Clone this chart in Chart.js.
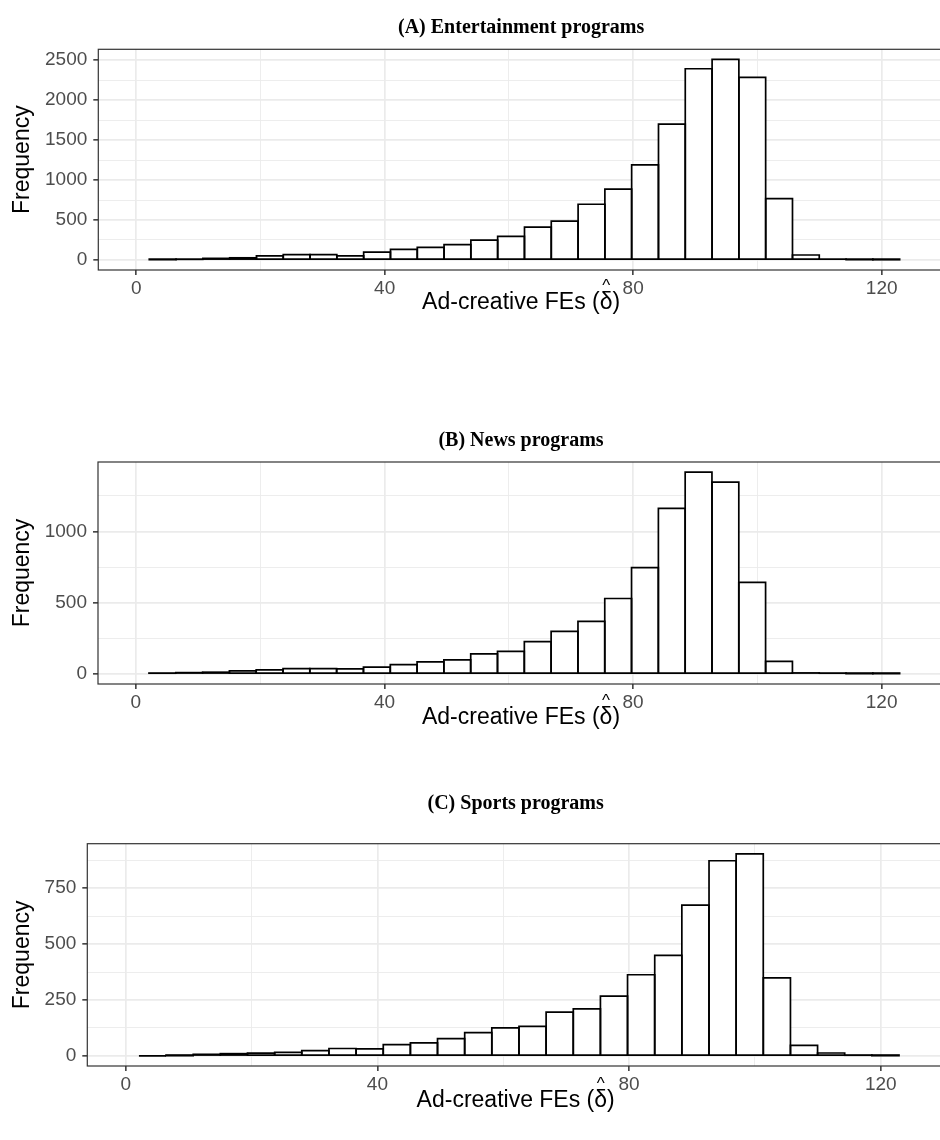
<!DOCTYPE html>
<html>
<head>
<meta charset="utf-8">
<script src="https://cdn.jsdelivr.net/npm/chart.js@4.4.1/dist/chart.umd.min.js"></script>
<style>
  html, body { margin: 0; padding: 0; background: #ffffff; }
  #page { position: relative; width: 940px; height: 1140px; overflow: hidden; background: #ffffff; }
  #page canvas { position: absolute; left: 0; }
</style>
</head>
<body>
<div id="page">
  <canvas id="panelA" width="960" height="330"></canvas>
  <canvas id="panelB" width="960" height="330"></canvas>
  <canvas id="panelC" width="960" height="360"></canvas>
</div>
<script>
// Histogram bins of the ad-creative fixed effects (bin centres, shared by all panels)
const binCenters = [4.26, 8.57, 12.89, 17.20, 21.51, 25.83, 30.14, 34.46, 38.77, 43.09,
                    47.40, 51.71, 56.03, 60.34, 64.66, 68.97, 73.29, 77.60, 81.91, 86.23,
                    90.54, 94.86, 99.17, 103.49, 107.80, 112.11, 116.43, 120.74];

// Counts per bin
const countsEntertainment = [4, 8, 20, 27, 50, 68, 68, 50, 97, 133, 158, 192, 247, 294, 410, 485,
                             697, 887, 1190, 1700, 2392, 2510, 2284, 767, 62, 10, 4, 3];
const countsNews = [5, 9, 12, 21, 28, 37, 37, 35, 47, 65, 84, 98, 140, 158, 226, 298,
                    368, 529, 746, 1162, 1416, 1346, 642, 88, 7, 5, 2, 2];
const countsSports = [0, 1, 7, 10, 12, 16, 24, 33, 31, 50, 58, 77, 104, 125, 132, 196,
                      210, 267, 363, 450, 674, 873, 904, 349, 47, 13, 3, 1];

// Axis ticks
const xTickValues = [0, 20, 40, 60, 80, 100, 120];
const xMajorStep = 40;
const xMin = -6.1, xMax = 131;

const panelTitles = ['(A) Entertainment programs', '(B) News programs', '(C) Sports programs'];
const xAxisLabel = ['Ad-creative FEs (', '\u03B4', ')'];
const yAxisLabel = 'Frequency';

const GRID = '#EBEBEB';
const DARK = '#333333';
const TICK_TEXT = '#4D4D4D';
const SANS = '"Liberation Sans", Arial, Helvetica, sans-serif';
const SERIF = '"Liberation Serif", "Times New Roman", serif';

// Draws the bar outlines, panel box and all titles
const decor = {
  id: 'decor',
  afterDatasetsDraw(chart) {
    const ctx = chart.ctx;
    const meta = chart.getDatasetMeta(0);
    ctx.save();
    ctx.strokeStyle = '#000000';
    ctx.lineWidth = 1.7;
    ctx.lineJoin = 'miter';
    meta.data.forEach(el => {
      const p = el.getProps(['x', 'y', 'base', 'width'], true);
      ctx.beginPath();
      ctx.rect(p.x - p.width / 2, p.y, p.width, p.base - p.y);
      ctx.stroke();
    });
    ctx.restore();
  },
  afterDraw(chart, args, opts) {
    const ctx = chart.ctx;
    const a = chart.chartArea;
    ctx.save();
    // panel border
    ctx.strokeStyle = DARK;
    ctx.lineWidth = 1.2;
    ctx.strokeRect(a.left, a.top, a.right - a.left, a.bottom - a.top);

    const cx = (a.left + a.right) / 2 - 3;

    // panel title
    ctx.fillStyle = '#000000';
    ctx.font = 'bold 20px ' + SERIF;
    ctx.textAlign = 'center';
    ctx.textBaseline = 'middle';
    ctx.fillText(opts.title, cx, opts.titleY);

    // x-axis title with a hat over delta
    ctx.font = '23px ' + SANS;
    ctx.textAlign = 'left';
    ctx.textBaseline = 'alphabetic';
    const w0 = ctx.measureText(xAxisLabel[0]).width;
    const w1 = ctx.measureText(xAxisLabel[1]).width;
    const w2 = ctx.measureText(xAxisLabel[2]).width;
    const x0 = cx - (w0 + w1 + w2) / 2;
    const by = a.bottom + opts.xTitleOffset;
    ctx.fillText(xAxisLabel[0], x0, by);
    ctx.fillText(xAxisLabel[1], x0 + w0, by);
    ctx.fillText(xAxisLabel[2], x0 + w0 + w1, by);
    ctx.font = '17px ' + SANS;
    ctx.textAlign = 'center';
    ctx.fillText('^', x0 + w0 + w1 / 2, by - 18);

    // y-axis title
    ctx.font = '23px ' + SANS;
    ctx.translate(opts.yTitleX, (a.top + a.bottom) / 2);
    ctx.rotate(-Math.PI / 2);
    ctx.textAlign = 'center';
    ctx.textBaseline = 'middle';
    ctx.fillText(yAxisLabel, 0, 0);
    ctx.restore();
  }
};

function makePanel(id, p) {
  const canvas = document.getElementById(id);
  canvas.style.top = p.top + 'px';
  const yMaxData = Math.max.apply(null, p.counts);
  const yMin = -0.05 * yMaxData, yMax = 1.05 * yMaxData;
  const yTicks = [];
  for (let v = 0; v <= yMax; v += p.yStep / 2) yTicks.push(v);

  new Chart(canvas, {
    type: 'bar',
    data: {
      datasets: [{
        data: binCenters.map((c, i) => ({ x: c, y: p.counts[i] })),
        backgroundColor: '#ffffff',
        borderWidth: 0,
        barPercentage: 1,
        categoryPercentage: 1,
        inflateAmount: 0
      }]
    },
    options: {
      responsive: false,
      animation: false,
      events: [],
      layout: { padding: { top: p.areaTop, right: 10, bottom: 0, left: 0 } },
      plugins: {
        legend: { display: false },
        tooltip: { enabled: false },
        title: { display: false },
        decor: { title: p.title, titleY: p.titleY, xTitleOffset: p.xTitleOffset, yTitleX: 23 }
      },
      scales: {
        x: {
          type: 'linear',
          offset: false,
          min: xMin,
          max: xMax,
          afterBuildTicks: s => { s.ticks = xTickValues.map(v => ({ value: v })); },
          afterFit: s => { s.height = p.height - p.areaBottom; },
          border: { display: false },
          grid: {
            offset: false,
            color: c => GRID,
            lineWidth: c => (c.tick && c.tick.value % xMajorStep === 0) ? 1.7 : 0.9,
            drawTicks: true,
            tickLength: 5,
            tickColor: c => (c.tick && c.tick.value % xMajorStep === 0) ? DARK : 'rgba(0,0,0,0)',
            tickWidth: 1.5
          },
          ticks: {
            autoSkip: false,
            maxRotation: 0,
            padding: 2,
            color: TICK_TEXT,
            font: { family: SANS, size: 19 },
            callback: v => (v % xMajorStep === 0) ? String(v) : ''
          }
        },
        y: {
          type: 'linear',
          offset: false,
          min: yMin,
          max: yMax,
          afterBuildTicks: s => { s.ticks = yTicks.map(v => ({ value: v })); },
          afterFit: s => { s.width = p.areaLeft; },
          border: { display: false },
          grid: {
            offset: false,
            color: c => GRID,
            lineWidth: c => (c.tick && c.tick.value % p.yStep === 0) ? 1.7 : 0.9,
            drawTicks: true,
            tickLength: 5,
            tickColor: c => (c.tick && c.tick.value % p.yStep === 0) ? DARK : 'rgba(0,0,0,0)',
            tickWidth: 1.5
          },
          ticks: {
            autoSkip: false,
            padding: 6,
            color: TICK_TEXT,
            font: { family: SANS, size: 19 },
            callback: v => (v % p.yStep === 0) ? String(v) : ''
          }
        }
      }
    },
    plugins: [decor]
  });
}

makePanel('panelA', { top: 0, height: 330, areaTop: 49.3, areaBottom: 270, areaLeft: 98.3, xTitleOffset: 39,
                      counts: countsEntertainment, yStep: 500, title: panelTitles[0], titleY: 28 });
makePanel('panelB', { top: 410, height: 330, areaTop: 52, areaBottom: 274, areaLeft: 98, xTitleOffset: 40,
                      counts: countsNews, yStep: 500, title: panelTitles[1], titleY: 31 });
makePanel('panelC', { top: 780, height: 360, areaTop: 63.7, areaBottom: 286, areaLeft: 87.3, xTitleOffset: 41,
                      counts: countsSports, yStep: 250, title: panelTitles[2], titleY: 24 });
</script>
</body>
</html>
